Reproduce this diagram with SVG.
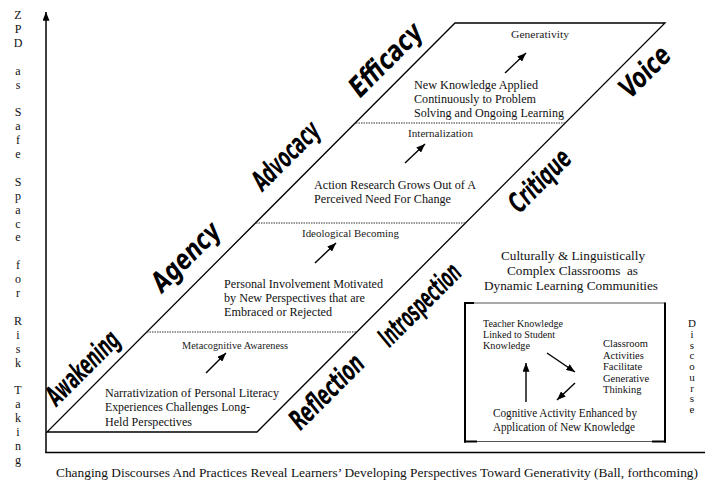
<svg xmlns="http://www.w3.org/2000/svg" width="705" height="484" viewBox="0 0 705 484">
<defs>
<marker id="ah" viewBox="0 0 10 8" refX="10" refY="4" markerWidth="9" markerHeight="7" markerUnits="userSpaceOnUse" orient="auto"><path d="M0,0 L10,4 L0,8 z" fill="#000"/></marker>
<marker id="ahx" viewBox="0 0 10 8" refX="10" refY="4" markerWidth="10" markerHeight="7" markerUnits="userSpaceOnUse" orient="auto"><path d="M0,0 L10,4 L0,8 z" fill="#000"/></marker>
<style>
.t{font-family:"Liberation Serif","Times New Roman",serif;fill:#111}
.s12{font-size:12.5px}
.s10{font-size:10.5px;fill:#222}
.lab{font-family:"Liberation Sans Narrow","DejaVu Sans Condensed","Liberation Sans",sans-serif;font-weight:bold;font-style:italic;font-size:28px;fill:#000;text-anchor:middle}
.dash{stroke:#333;stroke-width:1;stroke-dasharray:1.5 1;fill:none}
.ln{stroke:#000;stroke-width:1.3;fill:none}
.arr{stroke:#000;stroke-width:1.4;fill:none;marker-end:url(#ah)}
</style>
</defs>
<rect x="0" y="0" width="705" height="484" fill="#fff"/>

<g id="axes">
<line x1="46" y1="453" x2="46" y2="12" stroke="#000" stroke-width="1.5" marker-end="url(#ahx)"/>
<line x1="45.3" y1="452.5" x2="705" y2="452.5" stroke="#000" stroke-width="1.5"/>
</g>

<g id="axis-label-zpd" class="t" font-size="12" text-anchor="middle">
<text x="18" y="19">Z</text><text x="18" y="32.9">P</text><text x="18" y="46.8">D</text>
<text x="18" y="74.6">a</text><text x="18" y="88.5">s</text>
<text x="18" y="116.3">S</text><text x="18" y="130.2">a</text><text x="18" y="144.1">f</text><text x="18" y="158">e</text>
<text x="18" y="185.8">S</text><text x="18" y="199.7">p</text><text x="18" y="213.6">a</text><text x="18" y="227.5">c</text><text x="18" y="241.4">e</text>
<text x="18" y="269.2">f</text><text x="18" y="283.1">o</text><text x="18" y="297">r</text>
<text x="18" y="324.8">R</text><text x="18" y="338.7">i</text><text x="18" y="352.6">s</text><text x="18" y="366.5">k</text>
<text x="18" y="394.3">T</text><text x="18" y="408.2">a</text><text x="18" y="422.1">k</text><text x="18" y="436">i</text><text x="18" y="449.9">n</text><text x="18" y="463.8">g</text>
</g>

<g id="parallelogram">
<polygon points="47,432 257,432 665,23 455,23" class="ln"/>
<line x1="147" y1="332" x2="357" y2="332" class="dash"/>
<line x1="256" y1="223" x2="466" y2="223" class="dash"/>
<line x1="356" y1="123" x2="566" y2="123" class="dash"/>
</g>

<g id="left-labels">
<g id="label-awakening" transform="translate(83,368) rotate(-45)"><text class="lab" x="0" y="9" textLength="92" lengthAdjust="spacingAndGlyphs">Awakening</text></g>
<g id="label-agency" transform="translate(186,257) rotate(-45)"><text class="lab" x="0" y="9" textLength="85" lengthAdjust="spacingAndGlyphs">Agency</text></g>
<g id="label-advocacy" transform="translate(286,156) rotate(-45)"><text class="lab" x="0" y="9" textLength="84" lengthAdjust="spacingAndGlyphs">Advocacy</text></g>
<g id="label-efficacy" transform="translate(386,60) rotate(-45)"><text class="lab" x="0" y="9" textLength="91" lengthAdjust="spacingAndGlyphs">Efficacy</text></g>
</g>
<g id="right-labels">
<g id="label-reflection" transform="translate(327,392) rotate(-45)"><text class="lab" x="0" y="9" textLength="93" lengthAdjust="spacingAndGlyphs">Reflection</text></g>
<g id="label-introspection" transform="translate(420,305) rotate(-45)"><text class="lab" x="0" y="9" textLength="104" lengthAdjust="spacingAndGlyphs">Introspection</text></g>
<g id="label-critique" transform="translate(540,181) rotate(-45)"><text class="lab" x="0" y="9" textLength="76" lengthAdjust="spacingAndGlyphs">Critique</text></g>
<g id="label-voice" transform="translate(645,72) rotate(-45)"><text class="lab" x="0" y="9" textLength="60" lengthAdjust="spacingAndGlyphs">Voice</text></g>
</g>

<g id="stage1" class="t s12">
<text x="105" y="396.5" textLength="174" lengthAdjust="spacingAndGlyphs">Narrativization of Personal Literacy</text>
<text x="105" y="411" textLength="145" lengthAdjust="spacingAndGlyphs">Experiences Challenges Long-</text>
<text x="105" y="425.5" textLength="87" lengthAdjust="spacingAndGlyphs">Held Perspectives</text>
</g>
<g id="step-metacognitive" class="t s10"><text x="182" y="349" textLength="106" lengthAdjust="spacingAndGlyphs">Metacognitive Awareness</text></g>

<g id="stage2" class="t s12">
<text x="224" y="288" textLength="159" lengthAdjust="spacingAndGlyphs">Personal Involvement Motivated</text>
<text x="224" y="302" textLength="141" lengthAdjust="spacingAndGlyphs">by New Perspectives that are</text>
<text x="224" y="316" textLength="108" lengthAdjust="spacingAndGlyphs">Embraced or Rejected</text>
</g>
<g id="step-ideological" class="t s10"><text x="302" y="237" textLength="97" lengthAdjust="spacingAndGlyphs">Ideological Becoming</text></g>

<g id="stage3" class="t s12">
<text x="314" y="188.5" textLength="162" lengthAdjust="spacingAndGlyphs">Action Research Grows Out of A</text>
<text x="314" y="202.5" textLength="137" lengthAdjust="spacingAndGlyphs">Perceived Need For Change</text>
</g>
<g id="step-internalization" class="t s10"><text x="408" y="137" textLength="65" lengthAdjust="spacingAndGlyphs">Internalization</text></g>

<g id="stage4" class="t s12">
<text x="414" y="89" textLength="124" lengthAdjust="spacingAndGlyphs">New Knowledge Applied</text>
<text x="414" y="103" textLength="122" lengthAdjust="spacingAndGlyphs">Continuously to Problem</text>
<text x="414" y="117" textLength="150" lengthAdjust="spacingAndGlyphs">Solving and Ongoing Learning</text>
</g>
<g id="step-generativity" class="t s10"><text x="511" y="38" textLength="58" lengthAdjust="spacingAndGlyphs">Generativity</text></g>

<g id="classrooms" class="t" font-size="13.5">
<text x="501" y="259.5" textLength="144" lengthAdjust="spacingAndGlyphs">Culturally &amp; Linguistically</text>
<text x="507" y="274.5" textLength="131" lengthAdjust="spacingAndGlyphs" xml:space="preserve">Complex Classrooms  as</text>
<text x="484" y="289.5" textLength="174" lengthAdjust="spacingAndGlyphs">Dynamic Learning Communities</text>
</g>

<g id="cycle-box">
<line x1="465" y1="303" x2="665" y2="303" stroke="#555" stroke-width="1"/>
<line x1="465" y1="441.5" x2="665" y2="441.5" stroke="#555" stroke-width="1"/>
<line x1="465" y1="302" x2="465" y2="442.5" stroke="#000" stroke-width="2"/>
<line x1="665" y1="302.5" x2="665" y2="442.5" stroke="#000" stroke-width="2"/>
<line x1="464" y1="303" x2="474" y2="303" stroke="#000" stroke-width="2"/>
<line x1="464" y1="441.5" x2="477" y2="441.5" stroke="#000" stroke-width="2"/>
<line x1="652" y1="441.5" x2="666" y2="441.5" stroke="#000" stroke-width="2"/>
</g>

<g id="node-teacher" class="t" font-size="10.5">
<text x="483" y="327" textLength="80" lengthAdjust="spacingAndGlyphs">Teacher Knowledge</text>
<text x="483" y="338" textLength="72" lengthAdjust="spacingAndGlyphs">Linked to Student</text>
<text x="483" y="349" textLength="47" lengthAdjust="spacingAndGlyphs">Knowledge</text>
</g>
<g id="node-classroom" class="t" font-size="10.5">
<text x="603" y="347">Classroom</text>
<text x="603" y="358.5">Activities</text>
<text x="603" y="370">Facilitate</text>
<text x="603" y="381.5">Generative</text>
<text x="603" y="393">Thinking</text>
</g>
<g id="node-cognitive" class="t" font-size="11.5">
<text x="493" y="417" textLength="144" lengthAdjust="spacingAndGlyphs">Cognitive Activity Enhanced by</text>
<text x="493" y="430.5" textLength="142" lengthAdjust="spacingAndGlyphs">Application of New Knowledge</text>
</g>

<g id="discourse" class="t" font-size="11" text-anchor="middle">
<text x="692" y="327">D</text><text x="692" y="337.8">i</text><text x="692" y="348.5">s</text><text x="692" y="359.3">c</text><text x="692" y="370">o</text><text x="692" y="380.8">u</text><text x="692" y="391.5">r</text><text x="692" y="402.3">s</text><text x="692" y="413">e</text>
</g>

<g id="connectors">
<line x1="206" y1="373" x2="226" y2="353" class="arr"/>
<line x1="315" y1="263" x2="336" y2="243" class="arr"/>
<line x1="405" y1="163" x2="425" y2="144" class="arr"/>
<line x1="505" y1="73" x2="526" y2="53" class="arr"/>
<line x1="526" y1="402" x2="526" y2="363" class="arr"/>
<line x1="547" y1="353" x2="575" y2="372" class="arr"/>
<line x1="575" y1="383" x2="557" y2="400" class="arr"/>
</g>

<g id="caption" class="t" font-size="13.5">
<text x="56" y="477" textLength="642" lengthAdjust="spacingAndGlyphs">Changing Discourses And Practices Reveal Learners’ Developing Perspectives Toward Generativity (Ball, forthcoming)</text>
</g>
</svg>
